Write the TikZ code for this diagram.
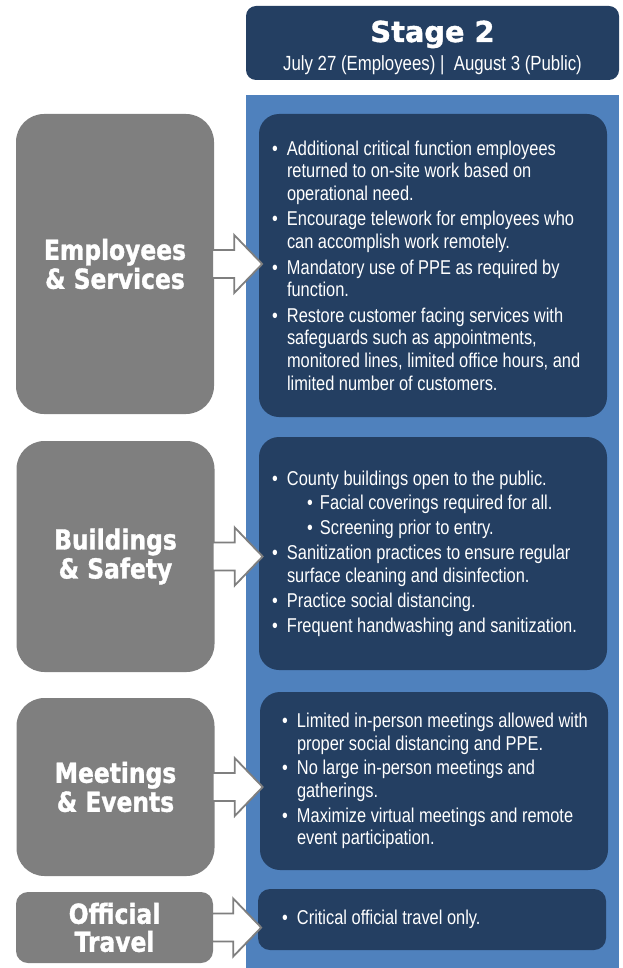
\documentclass[tikz,border=0pt]{standalone}
\usepackage{fontspec}
\setmainfont{Liberation Sans}[FakeStretch=0.82]
\newfontfamily\headfont{DejaVu Sans}[FakeStretch=0.85, BoldFeatures={FakeBold=1.3}]
\newfontfamily\stagefont{DejaVu Sans}[BoldFeatures={FakeBold=1.3}]

\definecolor{stageblue}{HTML}{4F81BD}
\definecolor{navybox}{HTML}{243F62}
\definecolor{slategray}{HTML}{7F7F7F}

\newcommand{\bul}{\makebox[15pt][l]{\textbullet}}
\newcommand{\ind}{\hspace*{15pt}}
\newcommand{\subbul}{\hspace*{35pt}\makebox[13pt][l]{\textbullet}}

\begin{document}
\begin{tikzpicture}[x=1pt, y=-1pt,
	graybox/.style={rectangle, rounded corners=28pt, fill=slategray, text=white, minimum width=198pt, inner sep=0pt, align=center, font=\headfont\bfseries\fontsize{27.5}{29}\selectfont},
	darkbox/.style={rectangle, rounded corners=20pt, fill=navybox, minimum width=348pt, inner sep=0pt},
	listtext/.style={anchor=west, text=white, align=left, inner sep=0pt, font=\fontsize{20}{22.6}\selectfont},
	blockarr/.style={draw=slategray, line width=1.8pt, fill=white, line join=miter}]
		\useasboundingbox (0,0) rectangle (623,968);

		\node[rectangle, rounded corners=10pt, fill=navybox, minimum width=373pt, minimum height=74pt] (hdr) at (432.5,43) {};
		\node[anchor=base, text=white, font=\stagefont\bfseries\fontsize{28.8}{30}\selectfont] (stage) at (432.5,42) {Stage 2};
		\node[anchor=base, text=white, font=\fontsize{20.5}{24}\selectfont] (dates) at (432.5,71) {July 27 (Employees)\ |\ \ August 3 (Public)};

		\fill[stageblue] (246,95) rectangle (619,968);

		\node[graybox, minimum height=300pt] (emp) at (115,264) {Employees\\\& Services};
		\node[graybox, minimum height=231pt] (bld) at (115.5,556.5) {Buildings\\\& Safety};
		\node[graybox, minimum height=178pt] (meet) at (115.5,787) {Meetings\\\& Events};
		\node[graybox, minimum width=197pt, minimum height=71pt, rounded corners=12pt, font=\headfont\bfseries\fontsize{27.5}{28}\selectfont] (trav) at (114.5,927.5) {Official\\Travel};

		\node[darkbox, minimum height=303pt] (empb) at (433,265.5) {};
		\node[darkbox, minimum height=233pt] (bldb) at (433,553.5) {};
		\node[darkbox, minimum height=178pt] (meetb) at (434,781) {};
		\node[darkbox, minimum height=61pt, rounded corners=12pt] (travb) at (432,919.5) {};

		\node[listtext] (empt) at ([xshift=13pt]empb.west) {%
			\bul Additional critical function employees\\
			\ind returned to on-site work based on\\
			\ind operational need.\\[3pt]
			\bul Encourage telework for employees who\\
			\ind can accomplish work remotely.\\[3pt]
			\bul Mandatory use of PPE as required by\\
			\ind function.\\[3pt]
			\bul Restore customer facing services with\\
			\ind safeguards such as appointments,\\
			\ind monitored lines, limited office hours, and\\
			\ind limited number of customers.};
		\node[listtext, font=\fontsize{20}{23.3}\selectfont] (bldt) at ([xshift=13pt]bldb.west) {%
			\bul County buildings open to the public.\\[1.5pt]
			\subbul Facial coverings required for all.\\[1.5pt]
			\subbul Screening prior to entry.\\[1.5pt]
			\bul Sanitization practices to ensure regular\\
			\ind surface cleaning and disinfection.\\[1.5pt]
			\bul Practice social distancing.\\[1.5pt]
			\bul Frequent handwashing and sanitization.};
		\node[listtext] (meett) at ([xshift=22pt]meetb.west) {%
			\bul Limited in-person meetings allowed with\\
			\ind proper social distancing and PPE.\\[2pt]
			\bul No large in-person meetings and\\
			\ind gatherings.\\[2pt]
			\bul Maximize virtual meetings and remote\\
			\ind event participation.};
		\node[listtext] (travt) at ([xshift=24pt]travb.west) {\bul Critical official travel only.};

		\draw[blockarr] (emp.east) ++(-2,-14) -- ++(22,0) -- ++(0,-15) -- ++(28,29) -- ++(-28,29) -- ++(0,-15) -- ++(-22,0) -- cycle;
		\draw[blockarr] (bld.east) ++(-2,-14) -- ++(22,0) -- ++(0,-15) -- ++(28,29) -- ++(-28,29) -- ++(0,-15) -- ++(-22,0) -- cycle;
		\draw[blockarr] (meet.east) ++(-2,-14) -- ++(22,0) -- ++(0,-15) -- ++(28,29) -- ++(-28,29) -- ++(0,-15) -- ++(-22,0) -- cycle;
		\draw[blockarr] (trav.east) ++(-1,-14) -- ++(21,0) -- ++(0,-15) -- ++(28,29) -- ++(-28,29) -- ++(0,-15) -- ++(-21,0) -- cycle;
	\end{tikzpicture}
\end{document}
